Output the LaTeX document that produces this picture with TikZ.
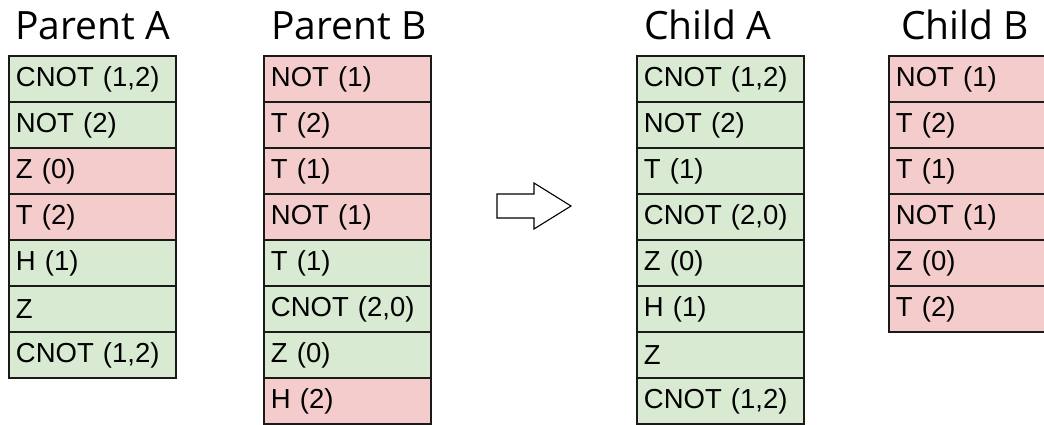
\documentclass[tikz,border=0pt]{standalone}
\usepackage{fontspec}
\setmainfont{Liberation Sans}
\newfontfamily\titlefont{Open Sans}
\definecolor{keepgreen}{HTML}{D9EAD3}
\definecolor{swapred}{HTML}{F4CCCC}
\definecolor{rule}{HTML}{1A1A1A}
\begin{document}
\begin{tikzpicture}[x=1pt,y=-1pt,
  cell/.style={draw=rule, line width=1.8pt, anchor=north west,
    minimum height=46pt, text width=153pt, inner xsep=7pt, inner ysep=0pt,
    align=left, font=\fontsize{27.5}{27.5}\selectfont},
  g/.style={cell, fill=keepgreen},
  r/.style={cell, fill=swapred},
  title/.style={anchor=base west, inner sep=0pt,
    font=\titlefont\fontsize{39}{39}\selectfont}]
\useasboundingbox (0,0) rectangle (1044,425);
\clip (0,0) rectangle (1044,425);

% column titles
\node[title] (tpa) at (15,40) {Parent A};
\node[title] (tpb) at (271,40) {Parent B};
\node[title] (tca) at (644,40) {Child A};
\node[title] (tcb) at (901,40) {Child B};

% Parent A
\foreach \t/\c [count=\i from 0] in {{CNOT (1,2)}/g, {NOT (2)}/g, {Z (0)}/r, {T (2)}/r, {H (1)}/g, {Z}/g, {CNOT (1,2)}/g}
  \node[\c] (pa\i) at (8,55+46*\i) {\t};

% Parent B
\foreach \t/\c [count=\i from 0] in {{NOT (1)}/r, {T (2)}/r, {T (1)}/r, {NOT (1)}/r, {T (1)}/g, {CNOT (2,0)}/g, {Z (0)}/g, {H (2)}/r}
  \node[\c] (pb\i) at (263,55+46*\i) {\t};

% Child A
\foreach \t/\c [count=\i from 0] in {{CNOT (1,2)}/g, {NOT (2)}/g, {T (1)}/g, {CNOT (2,0)}/g, {Z (0)}/g, {H (1)}/g, {Z}/g, {CNOT (1,2)}/g}
  \node[\c] (ca\i) at (636,55+46*\i) {\t};

% Child B
\foreach \t/\c [count=\i from 0] in {{NOT (1)}/r, {T (2)}/r, {T (1)}/r, {NOT (1)}/r, {Z (0)}/r, {T (2)}/r}
  \node[\c] (cb\i) at (888,55+46*\i) {\t};

% crossover arrow
\draw[line width=1.1pt, line join=miter, fill=white]
  (497,194) -- (534,194) -- (534,183) -- (571,206) -- (534,229)
  -- (534,218) -- (497,218) -- cycle;
\end{tikzpicture}
\end{document}
